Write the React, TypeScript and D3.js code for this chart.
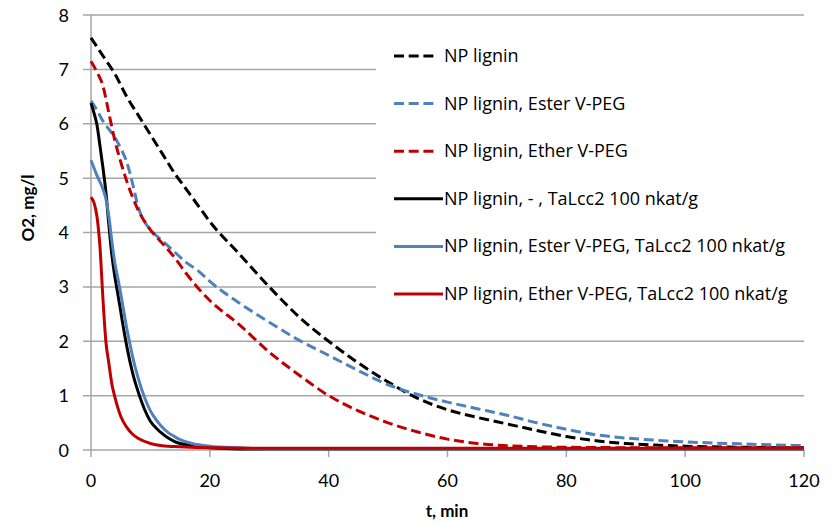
import React from 'react';
import * as d3 from 'd3';

// time axis (min) and O2 readings (mg/l)
const tNpLignin = [0, 2, 4, 6, 8, 10, 12, 14, 16, 18, 20, 25, 30, 35, 40, 45, 50, 55, 60, 65, 70, 75, 80, 85, 90, 95, 100, 110, 120];
const vNpLignin = [7.58, 7.25, 6.92, 6.5, 6.15, 5.8, 5.45, 5.1, 4.8, 4.5, 4.2, 3.6, 3.0, 2.45, 2.0, 1.6, 1.25, 0.95, 0.74, 0.6, 0.48, 0.36, 0.25, 0.17, 0.12, 0.09, 0.07, 0.05, 0.04];

const tEster = [0, 1, 2, 3, 4, 5, 6, 7, 8, 9, 10, 12, 14, 16, 18, 20, 25, 30, 35, 40, 45, 50, 55, 60, 65, 70, 75, 80, 85, 90, 95, 100, 110, 120];
const vEster = [6.42, 6.25, 6.05, 5.9, 5.75, 5.55, 5.3, 4.9, 4.45, 4.2, 4.05, 3.85, 3.65, 3.45, 3.3, 3.1, 2.7, 2.35, 2.02, 1.74, 1.46, 1.2, 1.02, 0.88, 0.76, 0.64, 0.5, 0.38, 0.28, 0.22, 0.18, 0.15, 0.11, 0.08];

const tEther = [0, 1, 2, 3, 4, 5, 6, 7, 8, 10, 12, 14, 16, 18, 20, 25, 30, 35, 40, 45, 50, 55, 60, 65, 70, 80, 100, 120];
const vEther = [7.15, 6.95, 6.7, 6.2, 5.7, 5.3, 4.95, 4.65, 4.4, 4.05, 3.8, 3.55, 3.25, 2.98, 2.75, 2.3, 1.8, 1.38, 1.0, 0.72, 0.5, 0.33, 0.2, 0.12, 0.08, 0.05, 0.04, 0.04];

const tLcc = [0, 0.5, 1, 1.5, 2, 2.5, 3, 3.5, 4, 4.5, 5, 5.5, 6, 7, 8, 9, 10, 11, 12, 13, 14, 15, 17, 20, 25, 30, 60, 90, 120];
const vLcc = [6.38, 6.2, 5.98, 5.6, 5.2, 4.75, 4.15, 3.6, 3.2, 2.88, 2.55, 2.22, 1.92, 1.42, 1.05, 0.75, 0.53, 0.4, 0.3, 0.22, 0.16, 0.12, 0.08, 0.04, 0.02, 0.02, 0.02, 0.02, 0.02];

const tEsterLcc = [0, 1, 2, 2.5, 3, 3.5, 4, 4.5, 5, 5.5, 6, 6.5, 7, 8, 9, 10, 11, 12, 13, 14, 15, 17, 20, 25, 30, 60, 90, 120];
const vEsterLcc = [5.33, 5.05, 4.8, 4.62, 4.3, 3.85, 3.45, 3.17, 2.88, 2.56, 2.25, 1.98, 1.72, 1.3, 0.97, 0.72, 0.55, 0.42, 0.32, 0.25, 0.19, 0.12, 0.07, 0.04, 0.02, 0.02, 0.02, 0.02];

const tEtherLcc = [0, 0.5, 1, 1.5, 2, 2.5, 3, 3.5, 4, 5, 6, 7, 8, 10, 12, 15, 20, 30, 50, 80, 120];
const vEtherLcc = [4.65, 4.55, 4.3, 3.75, 2.8, 2.0, 1.6, 1.22, 0.98, 0.62, 0.42, 0.29, 0.21, 0.12, 0.08, 0.06, 0.04, 0.03, 0.03, 0.03, 0.03];

const seriesNames = [
  'NP lignin',
  'NP lignin, Ester V-PEG',
  'NP lignin, Ether V-PEG',
  'NP lignin, - , TaLcc2 100 nkat/g',
  'NP lignin, Ester V-PEG, TaLcc2 100 nkat/g',
  'NP lignin, Ether V-PEG, TaLcc2 100 nkat/g',
];
const seriesColors = ['#000000', '#4F81BD', '#C00000', '#000000', '#4F81BD', '#C00000'];
const seriesDashed = [true, true, true, false, false, false];
const seriesT = [tNpLignin, tEster, tEther, tLcc, tEsterLcc, tEtherLcc];
const seriesV = [vNpLignin, vEster, vEther, vLcc, vEsterLcc, vEtherLcc];

const xTicks = [0, 20, 40, 60, 80, 100, 120];
const yTicks = [0, 1, 2, 3, 4, 5, 6, 7, 8];

const App = () => {
  const width = 839;
  const height = 525;
  const left = 91, right = 804, top = 15, bottom = 450;

  const x = d3.scaleLinear().domain([0, 120]).range([left, right]);
  const y = d3.scaleLinear().domain([0, 8]).range([bottom, top]);

  const line = d3
    .line<[number, number]>()
    .x((d) => x(d[0]))
    .y((d) => y(d[1]))
    .curve(d3.curveMonotoneX);

  const font = 'Lato, "Open Sans", sans-serif';
  const legendFont = '"Open Sans", Lato, sans-serif';
  const grid = '#A6A6A6';

  const legendY = (i: number) => 56 + i * 47.6;

  return (
    <svg width={width} height={height} style={{ position: 'absolute', left: 0, top: 0, background: '#fff' }}>
      {/* grid + y ticks */}
      {yTicks.map((v) => (
        <line key={'g' + v} x1={83} x2={right} y1={y(v)} y2={y(v)} stroke={grid} strokeWidth={1.5} />
      ))}
      <line x1={left} x2={left} y1={top} y2={bottom} stroke={grid} strokeWidth={1.5} />
      {xTicks.map((t) => (
        <line key={'xt' + t} x1={x(t)} x2={x(t)} y1={bottom} y2={bottom + 7} stroke={grid} strokeWidth={1.5} />
      ))}

      {/* series */}
      {seriesNames.map((name, i) => (
        <path
          key={name}
          d={line(seriesT[i].map((t, j) => [t, seriesV[i][j]] as [number, number])) || ''}
          fill="none"
          stroke={seriesColors[i]}
          strokeWidth={3}
          strokeDasharray={seriesDashed[i] ? '10,4.7' : undefined}
        />
      ))}

      {/* legend */}
      <rect x={376} y={22} width={right - 376 + 2} height={300} fill="#fff" />
      {seriesNames.map((name, i) => (
        <g key={'lg' + name}>
          <line
            x1={394}
            x2={seriesDashed[i] ? 436 : 443}
            y1={legendY(i)}
            y2={legendY(i)}
            stroke={seriesColors[i]}
            strokeWidth={3}
            strokeDasharray={seriesDashed[i] ? '10,4.7' : undefined}
          />
          <text x={444} y={legendY(i) + 6} fontFamily={legendFont} fontSize={18} fill="#000">
            {name}
          </text>
        </g>
      ))}

      {/* tick labels */}
      {yTicks.map((v) => (
        <text key={'yl' + v} x={69} y={y(v) + 6.5} textAnchor="end" fontFamily={font} fontSize={18} fill="#000">
          {v}
        </text>
      ))}
      {xTicks.map((t) => (
        <text key={'xl' + t} x={x(t)} y={487} textAnchor="middle" fontFamily={font} fontSize={18} fill="#000">
          {t}
        </text>
      ))}

      {/* axis titles */}
      <text x={447} y={517} textAnchor="middle" fontFamily={font} fontSize={17} fontWeight="bold" fill="#000">
        t, min
      </text>
      <text
        transform="translate(34,208) rotate(-90)"
        textAnchor="middle"
        fontFamily={font}
        fontSize={17}
        fontWeight="bold"
        fill="#000"
      >
        O2, mg/l
      </text>
    </svg>
  );
};

export default App;
